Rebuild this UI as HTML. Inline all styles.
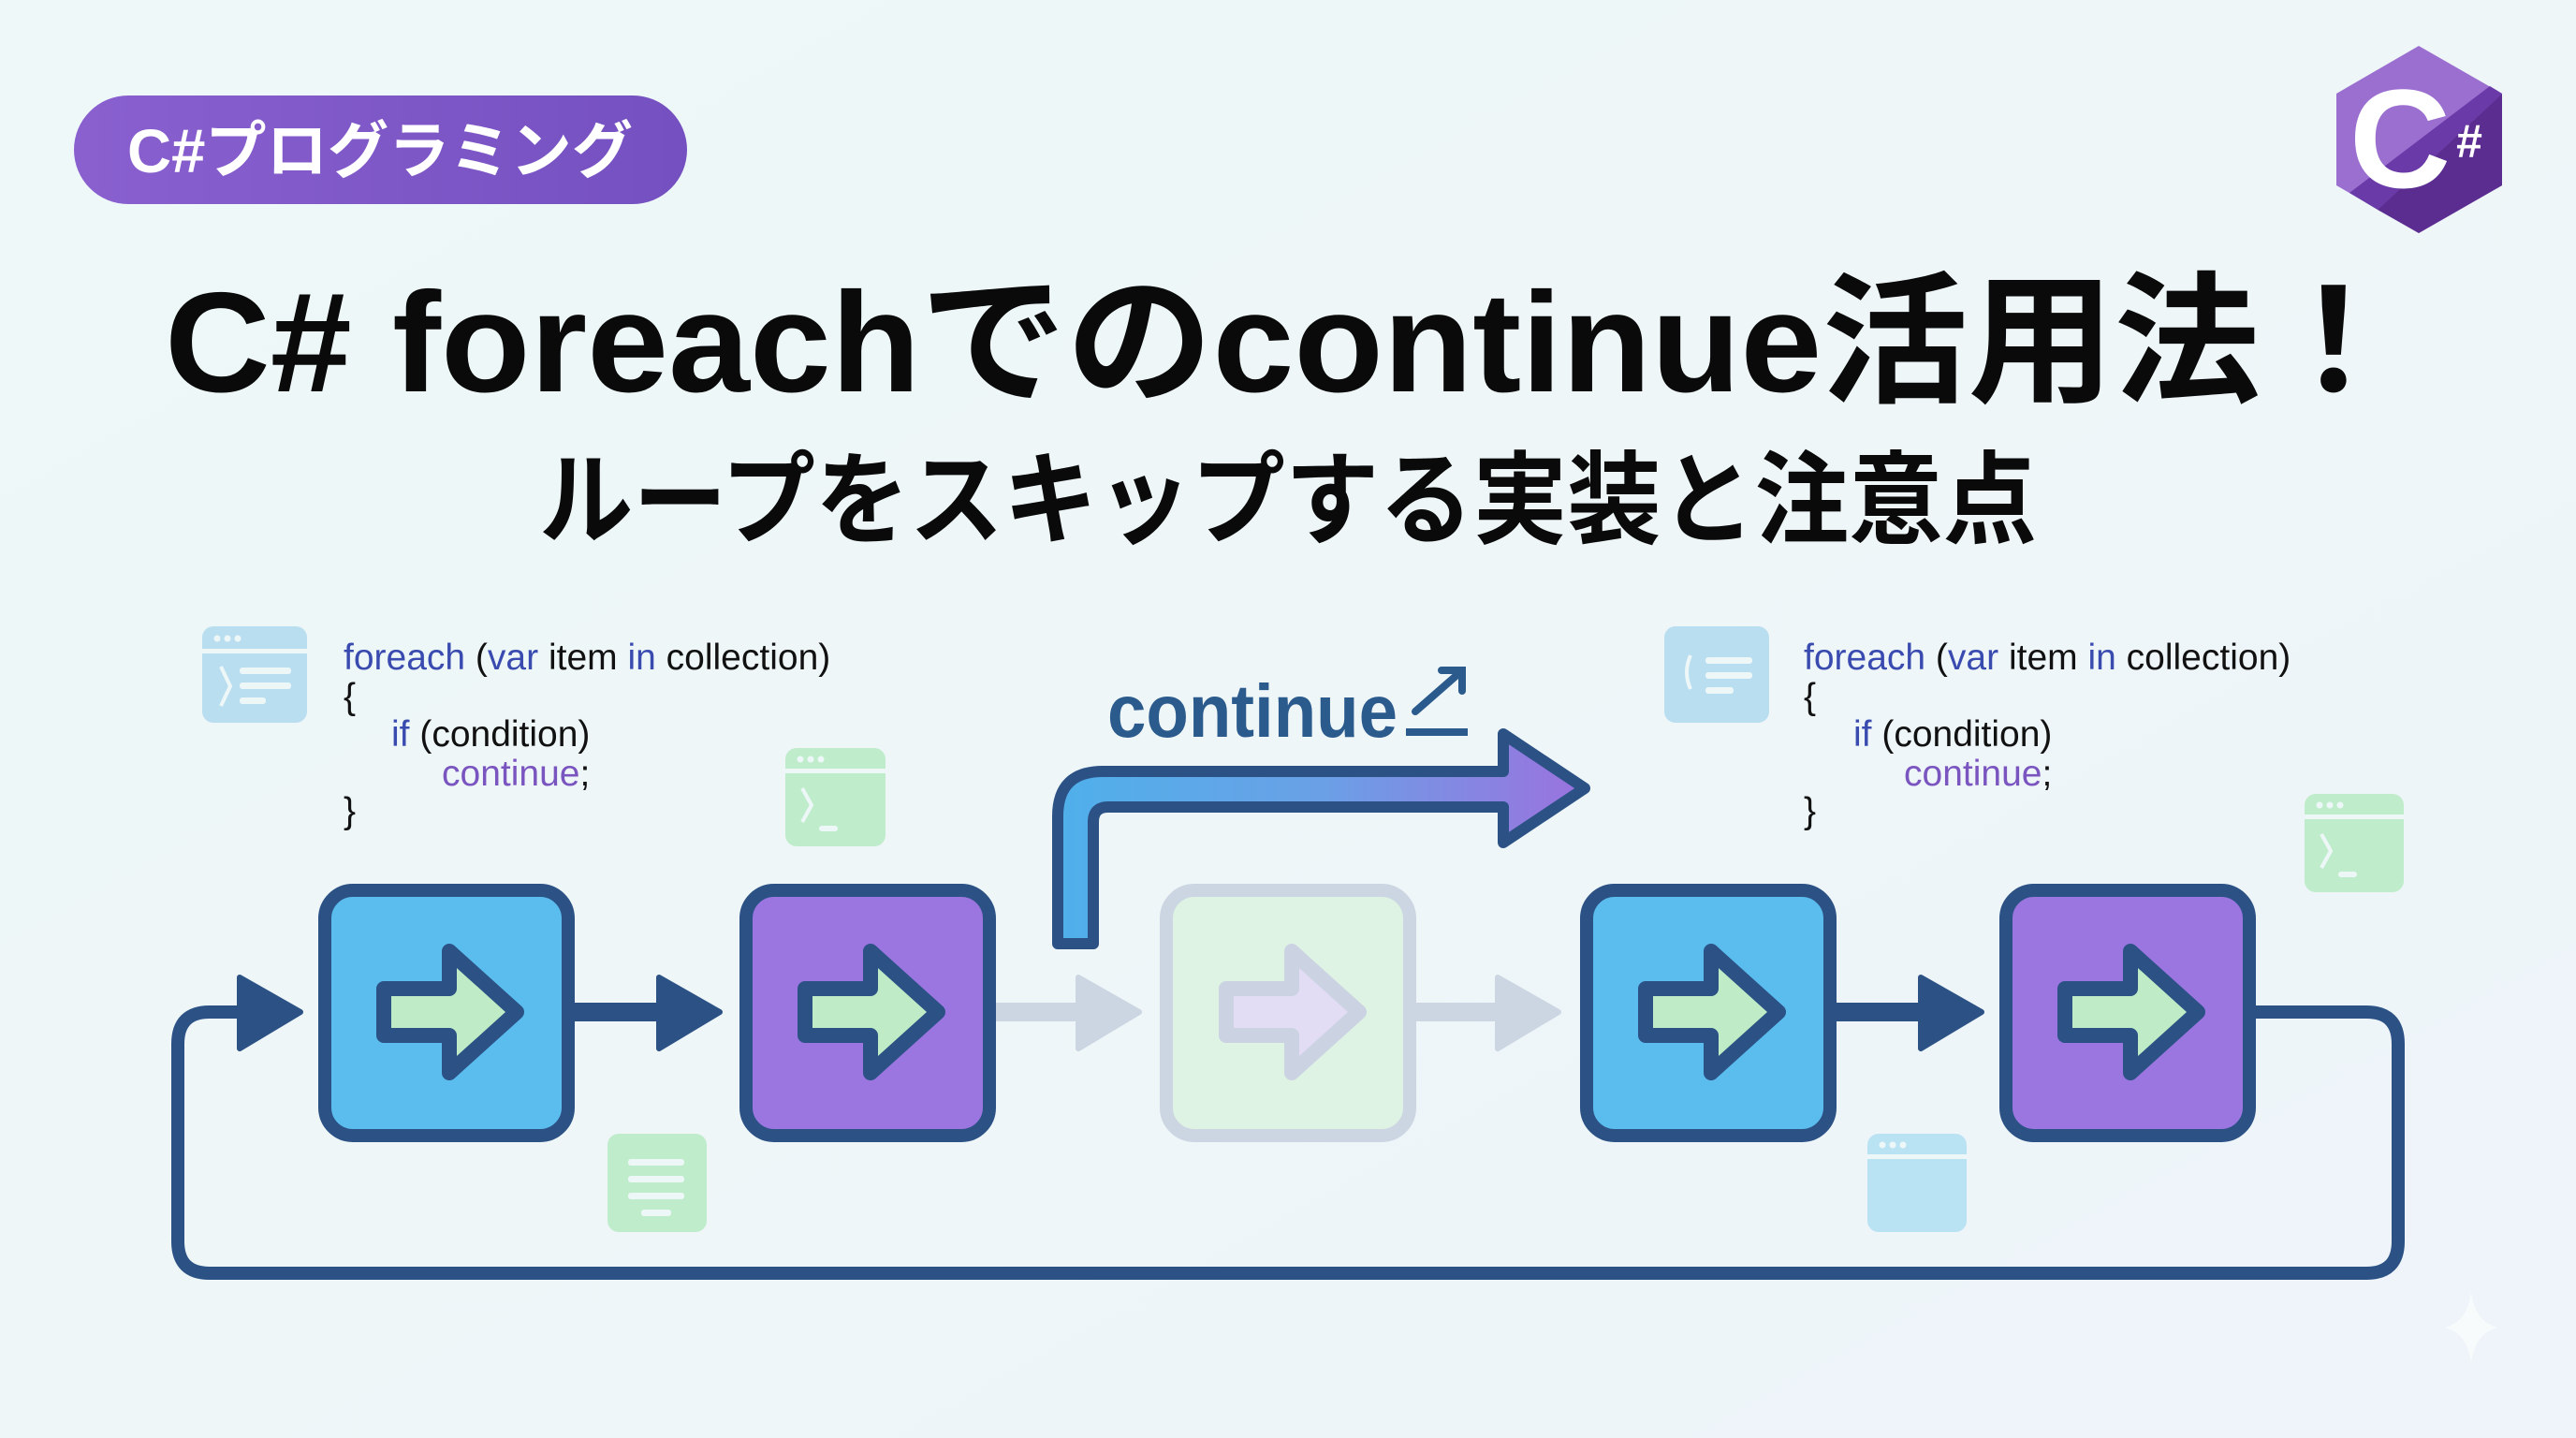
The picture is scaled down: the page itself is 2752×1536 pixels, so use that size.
<!DOCTYPE html>
<html><head><meta charset="utf-8"><style>
html,body{margin:0;padding:0;background:#eef7f8;}
svg{display:block}
text{font-family:"Liberation Sans","Noto Sans CJK JP",sans-serif;}
</style></head><body>
<svg width="2752" height="1536" viewBox="0 0 2752 1536" xmlns="http://www.w3.org/2000/svg">
<defs>
<linearGradient id="bg" x1="0" y1="0" x2="1" y2="1"><stop offset="0" stop-color="#eef8f8"/><stop offset="1" stop-color="#eef4f9"/></linearGradient>
<linearGradient id="badge" x1="0" y1="0" x2="1" y2="0"><stop offset="0" stop-color="#8a60cf"/><stop offset="1" stop-color="#7450c0"/></linearGradient>
<linearGradient id="skip" x1="0" y1="0" x2="1" y2="0"><stop offset="0" stop-color="#4fb0ea"/><stop offset="0.5" stop-color="#6aa0e6"/><stop offset="1" stop-color="#9b72de"/></linearGradient>
<g id="inarrow"><path d="M70 112 H140 V72 L212 137 L140 202 V162 H70 Z" stroke="#2b5185" stroke-width="16" stroke-linejoin="round" fill="#bfecc6"/></g>
</defs>
<rect width="2752" height="1536" fill="url(#bg)"/>

<rect x="79" y="102" width="655" height="116" rx="58" fill="url(#badge)"/>
<text x="406" y="184" font-size="66" font-weight="bold" fill="#fff" text-anchor="middle" textLength="540" lengthAdjust="spacingAndGlyphs">C#プログラミング</text>

<polygon points="2584,49 2673,100 2673,198 2584,249 2496,198 2496,100" fill="#9b6fd0"/>
<polygon points="2673,100 2673,198 2584,249 2540,224 2673,100" fill="#5c2d91"/>
<polygon points="2673,100 2540,224 2510,206 2660,92" fill="#6a3aa8"/>
<text x="2564" y="200" font-size="150" font-weight="bold" fill="#fff" text-anchor="middle">C</text>
<text x="2638" y="168" font-size="50" font-weight="bold" fill="#fff" text-anchor="middle">#</text>

<text x="176" y="418" font-size="152" font-weight="bold" fill="#0a0a0a" textLength="2395" lengthAdjust="spacingAndGlyphs">C# foreachでのcontinue活用法！</text>
<text x="576" y="572" font-size="108" font-weight="bold" fill="#0a0a0a" textLength="1600" lengthAdjust="spacingAndGlyphs">ループをスキップする実装と注意点</text>

<rect x="216" y="669" width="112" height="103" rx="12" fill="#b9def0"/>
<rect x="216" y="693" width="112" height="5" fill="#eef7f8"/>
<circle cx="232" cy="682" r="3.5" fill="#eef7f8"/><circle cx="243" cy="682" r="3.5" fill="#eef7f8"/><circle cx="254" cy="682" r="3.5" fill="#eef7f8"/>
<path d="M236 712 L246 733 L236 754" stroke="#eef7f8" stroke-width="4" fill="none"/>
<rect x="256" y="713" width="55" height="7" rx="3" fill="#eef7f8"/><rect x="256" y="729" width="55" height="7" rx="3" fill="#eef7f8"/><rect x="256" y="745" width="28" height="7" rx="3" fill="#eef7f8"/>

<g font-size="39" fill="#111">
<text x="367" y="715"><tspan fill="#3a4bb0">foreach</tspan> (<tspan fill="#3a4bb0">var</tspan> item <tspan fill="#3a4bb0">in</tspan> collection)</text>
<text x="367" y="757">{</text>
<text x="418" y="797"><tspan fill="#3a4bb0">if</tspan> (condition)</text>
<text x="472" y="839"><tspan fill="#7a55c0">continue</tspan>;</text>
<text x="367" y="879">}</text>
</g>

<rect x="1778" y="669" width="112" height="103" rx="12" fill="#b9def0"/>
<path d="M1806 700 Q1798 718 1806 736" stroke="#eef7f8" stroke-width="4" fill="none"/>
<rect x="1822" y="702" width="50" height="7" rx="3" fill="#eef7f8"/><rect x="1822" y="718" width="50" height="7" rx="3" fill="#eef7f8"/><rect x="1822" y="734" width="30" height="7" rx="3" fill="#eef7f8"/>
<g font-size="39" fill="#111">
<text x="1927" y="715"><tspan fill="#3a4bb0">foreach</tspan> (<tspan fill="#3a4bb0">var</tspan> item <tspan fill="#3a4bb0">in</tspan> collection)</text>
<text x="1927" y="757">{</text>
<text x="1980" y="797"><tspan fill="#3a4bb0">if</tspan> (condition)</text>
<text x="2034" y="839"><tspan fill="#7a55c0">continue</tspan>;</text>
<text x="1927" y="879">}</text>
</g>

<g fill="#bfeccb">
<rect x="839" y="799" width="107" height="105" rx="12"/>
<rect x="2462" y="848" width="106" height="105" rx="12"/>
<rect x="649" y="1211" width="106" height="105" rx="12"/>
</g>
<rect x="1995" y="1211" width="106" height="105" rx="12" fill="#b9e2f2"/>
<g fill="#eef7f8">
<rect x="839" y="821" width="107" height="5"/><rect x="2462" y="870" width="106" height="5"/><rect x="1995" y="1233" width="106" height="5"/>
<circle cx="855" cy="811" r="3.5"/><circle cx="866" cy="811" r="3.5"/><circle cx="877" cy="811" r="3.5"/>
<circle cx="2478" cy="860" r="3.5"/><circle cx="2489" cy="860" r="3.5"/><circle cx="2500" cy="860" r="3.5"/>
<circle cx="2011" cy="1223" r="3.5"/><circle cx="2022" cy="1223" r="3.5"/><circle cx="2033" cy="1223" r="3.5"/>
<rect x="671" y="1238" width="60" height="7" rx="3"/><rect x="671" y="1256" width="60" height="7" rx="3"/><rect x="671" y="1274" width="60" height="7" rx="3"/><rect x="685" y="1292" width="32" height="7" rx="3"/>
<rect x="875" y="882" width="20" height="6" rx="3"/><rect x="2498" y="931" width="20" height="6" rx="3"/>
</g>
<path d="M857 842 L867 860 L857 878" stroke="#eef7f8" stroke-width="4" fill="none"/>
<path d="M2480 891 L2490 909 L2480 927" stroke="#eef7f8" stroke-width="4" fill="none"/>

<text x="1183" y="787" font-size="80" font-weight="bold" fill="#2b5a8c" textLength="310" lengthAdjust="spacingAndGlyphs">continue</text>
<path d="M1512 760 L1560 718 M1540 716 H1562 V738" stroke="#2b5a8c" stroke-width="8" fill="none" stroke-linecap="round"/>
<rect x="1502" y="778" width="66" height="8" fill="#2b5a8c"/>

<path d="M2410 1081 H2528 Q2562 1081 2562 1115 V1326 Q2562 1360 2528 1360 H224 Q190 1360 190 1326 V1115 Q190 1081 224 1081 H262" stroke="#2b5185" stroke-width="14" fill="none"/>
<polygon points="256,1044 321,1081 256,1120" fill="#2b5185" stroke="#2b5185" stroke-width="6" stroke-linejoin="round"/>

<rect x="614" y="1071" width="100" height="20" fill="#2b5185"/>
<polygon points="704,1044 769,1081 704,1120" fill="#2b5185" stroke="#2b5185" stroke-width="6" stroke-linejoin="round"/>
<rect x="1064" y="1071" width="95" height="20" fill="#ccd6e2"/>
<polygon points="1152,1044 1217,1081 1152,1120" fill="#ccd6e2" stroke="#ccd6e2" stroke-width="6" stroke-linejoin="round"/>
<rect x="1513" y="1071" width="95" height="20" fill="#ccd6e2"/>
<polygon points="1600,1044 1665,1081 1600,1120" fill="#ccd6e2" stroke="#ccd6e2" stroke-width="6" stroke-linejoin="round"/>
<rect x="1962" y="1071" width="100" height="20" fill="#2b5185"/>
<polygon points="2052,1044 2117,1081 2052,1120" fill="#2b5185" stroke="#2b5185" stroke-width="6" stroke-linejoin="round"/>

<rect x="347" y="951" width="260" height="262" rx="30" fill="#5bbdee" stroke="#2b5185" stroke-width="14"/>
<use href="#inarrow" x="340" y="944"/>
<rect x="797" y="951" width="260" height="262" rx="30" fill="#9b76e0" stroke="#2b5185" stroke-width="14"/>
<use href="#inarrow" x="790" y="944"/>
<rect x="1246" y="951" width="260" height="262" rx="30" fill="#dff3e4" stroke="#cbd6e2" stroke-width="14"/>
<path d="M1310 1056 H1380 V1016 L1452 1081 L1380 1146 V1106 H1310 Z" stroke="#cbd3e2" stroke-width="16" stroke-linejoin="round" fill="#e2dcf5"/>
<rect x="1695" y="951" width="260" height="262" rx="30" fill="#5bbdee" stroke="#2b5185" stroke-width="14"/>
<use href="#inarrow" x="1688" y="944"/>
<rect x="2143" y="951" width="260" height="262" rx="30" fill="#9b76e0" stroke="#2b5185" stroke-width="14"/>
<use href="#inarrow" x="2136" y="944"/>

<path d="M1130 1008 V872 Q1130 824 1178 824 H1606 V784 L1693 842 L1606 900 V862 H1184 Q1168 862 1168 878 V1008 Z" fill="url(#skip)" stroke="#2b5185" stroke-width="12" stroke-linejoin="round"/>

<path d="M2640 1380 Q2644 1412 2668 1418 Q2644 1424 2640 1456 Q2636 1424 2612 1418 Q2636 1412 2640 1380 Z" fill="#f7fbfc"/>
</svg>
</body></html>
